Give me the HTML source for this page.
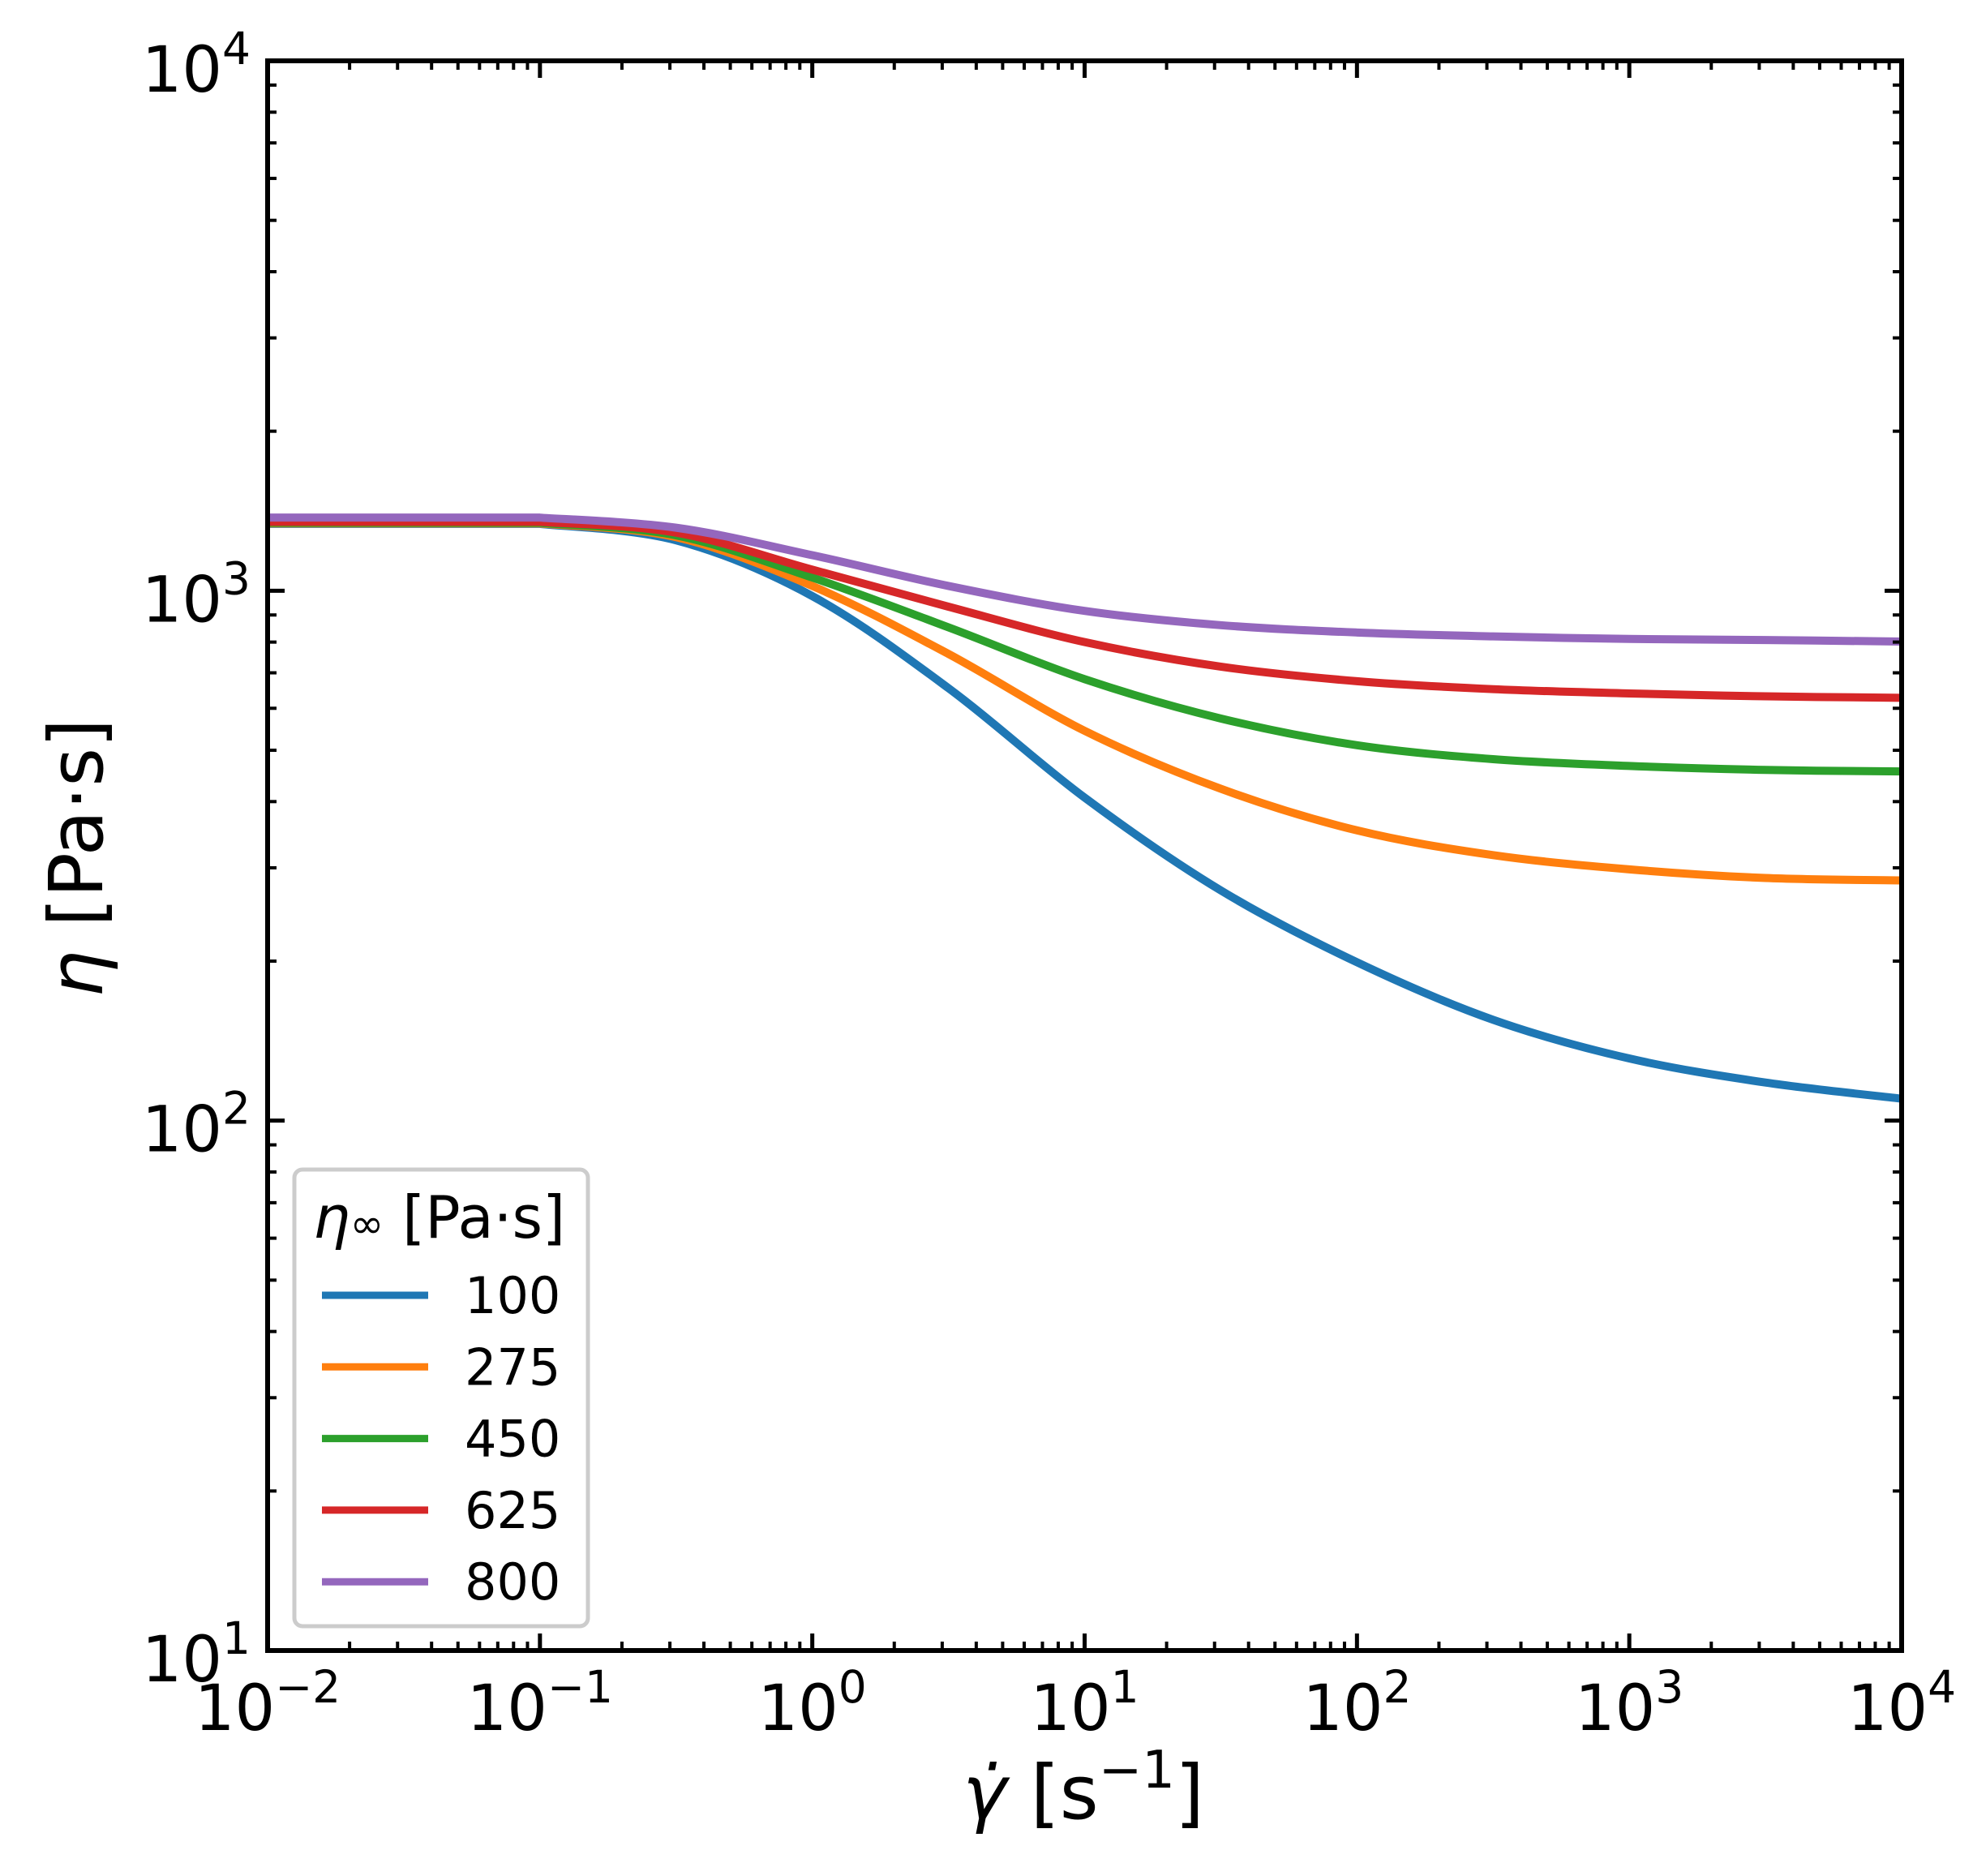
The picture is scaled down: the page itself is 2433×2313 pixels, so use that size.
<!DOCTYPE html>
<html><head><meta charset="utf-8"><style>
html,body{margin:0;padding:0;background:#fff;}
svg{display:block;}
text{font-family:"DejaVu Sans","Liberation Sans",sans-serif;fill:#000;}
</style></head><body>
<svg id="chart" width="2433" height="2313" viewBox="0 0 2433 2313" xmlns="http://www.w3.org/2000/svg">
<rect width="2433" height="2313" fill="#fff"/>
<g id="series"></g>
<g id="axes"></g>
<text transform="translate(126,1058) rotate(-90)" text-anchor="middle" font-size="92"><tspan font-style="italic">η</tspan> [Pa·s]</text>
<text x="1336" y="2242" text-anchor="middle" font-size="92"><tspan font-style="italic">γ̇</tspan> [s<tspan font-size="64" dy="-38">−1</tspan><tspan dy="38">]</tspan></text>
<g id="legend">
<rect x="363" y="1442" width="362" height="563" rx="10" fill="#fff" stroke="#cccccc" stroke-width="5"/>
<text x="386" y="1526" font-size="72"><tspan font-style="italic">η</tspan><tspan font-size="50">∞</tspan> [Pa·s]</text>
</g>
</svg>
<script>
const xValues=[0.01,0.1,0.316,1,3.16,10,31.6,100,316,1000,3162,10000];
const seriesLabels=["100","275","450","625","800"];
const seriesColors=["#1f77b4","#ff7f0e","#2ca02c","#d62728","#9467bd"];
const eta100=[1337,1337,1245,977,655,407,272,199,155,131,118,110];
const eta275=[1340,1340,1262,1021,760,544,423,353,317,298,287,284];
const eta450=[1343,1343,1272,1059,853,681,574,511,481,467,459,456];
const eta625=[1349,1349,1287,1096,933,800,719,675,652,640,632,628];
const eta800=[1374,1374,1315,1167,1021,916,861,834,820,811,807,802];
const xTickExps=[-2,-1,0,1,2,3,4];
const yTickExps=[1,2,3,4];

const L=330,R=2345,T=75,B=2035;
const NS="http://www.w3.org/2000/svg";
function xs(v){return L+(Math.log10(v)+2)/6*(R-L);}
function ys(v){return B-(Math.log10(v)-1)/3*(B-T);}
function mk(tag,attrs,parent){const e=document.createElementNS(NS,tag);for(const k in attrs)e.setAttribute(k,attrs[k]);parent.appendChild(e);return e;}

const seriesG=document.getElementById('series');
const allSeries=[eta100,eta275,eta450,eta625,eta800];
allSeries.forEach((vals,si)=>{
  const pts=xValues.map((x,i)=>[xs(x),ys(vals[i])]);
  let d="M"+pts[0][0]+","+pts[0][1]+" L"+pts[1][0]+","+pts[1][1];
  for(let i=1;i<pts.length-1;i++){
    const p0=pts[Math.max(i-1,1)],p1=pts[i],p2=pts[i+1],p3=pts[Math.min(i+2,pts.length-1)];
    const c1=[p1[0]+(p2[0]-p0[0])/6,p1[1]+(p2[1]-p0[1])/6];
    const c2=[p2[0]-(p3[0]-p1[0])/6,p2[1]-(p3[1]-p1[1])/6];
    d+=" C"+c1[0]+","+c1[1]+" "+c2[0]+","+c2[1]+" "+p2[0]+","+p2[1];
  }
  const p=mk('path',{d:d,fill:'none',stroke:seriesColors[si],'stroke-width':10,'stroke-linejoin':'round'},seriesG);
  
  
});

const axG=document.getElementById('axes');
mk('rect',{x:L,y:T,width:R-L,height:B-T,fill:'none',stroke:'#000','stroke-width':6},axG);
xTickExps.forEach((e,i)=>{
  const x=xs(Math.pow(10,e));
  mk('line',{x1:x,y1:B,x2:x,y2:B-21,stroke:'#000','stroke-width':5},axG);
  mk('line',{x1:x,y1:T,x2:x,y2:T+21,stroke:'#000','stroke-width':5},axG);
  if(i<xTickExps.length-1){for(let m=2;m<10;m++){const xm=xs(m*Math.pow(10,e));
    mk('line',{x1:xm,y1:B,x2:xm,y2:B-11,stroke:'#000','stroke-width':4},axG);
    mk('line',{x1:xm,y1:T,x2:xm,y2:T+11,stroke:'#000','stroke-width':4},axG);}}
  const t=mk('text',{x:x,y:B+98,'text-anchor':'middle','font-size':78},axG);
  
  
  t.innerHTML='10<tspan font-size="55" dy="-34">'+(e<0?'−'+(-e):e)+'</tspan>';
});
yTickExps.forEach((e,i)=>{
  const y=ys(Math.pow(10,e));
  mk('line',{x1:L,y1:y,x2:L+21,y2:y,stroke:'#000','stroke-width':5},axG);
  mk('line',{x1:R,y1:y,x2:R-21,y2:y,stroke:'#000','stroke-width':5},axG);
  if(i<yTickExps.length-1){for(let m=2;m<10;m++){const ym=ys(m*Math.pow(10,e));
    mk('line',{x1:L,y1:ym,x2:L+11,y2:ym,stroke:'#000','stroke-width':4},axG);
    mk('line',{x1:R,y1:ym,x2:R-11,y2:ym,stroke:'#000','stroke-width':4},axG);}}
  const t=mk('text',{x:309,y:y+38,'text-anchor':'end','font-size':78},axG);
  
  
  t.innerHTML='10<tspan font-size="55" dy="-34">'+e+'</tspan>';
});

const legG=document.getElementById('legend');
seriesLabels.forEach((lab,i)=>{
  const y=1597+i*88.3;
  const ln=mk('line',{x1:397,y1:y,x2:528,y2:y,stroke:seriesColors[i],'stroke-width':9},legG);
  
  
  const t=mk('text',{x:573,y:y+22,'font-size':62},legG);
  
  
  t.textContent=lab;
});
</script>
</body></html>
